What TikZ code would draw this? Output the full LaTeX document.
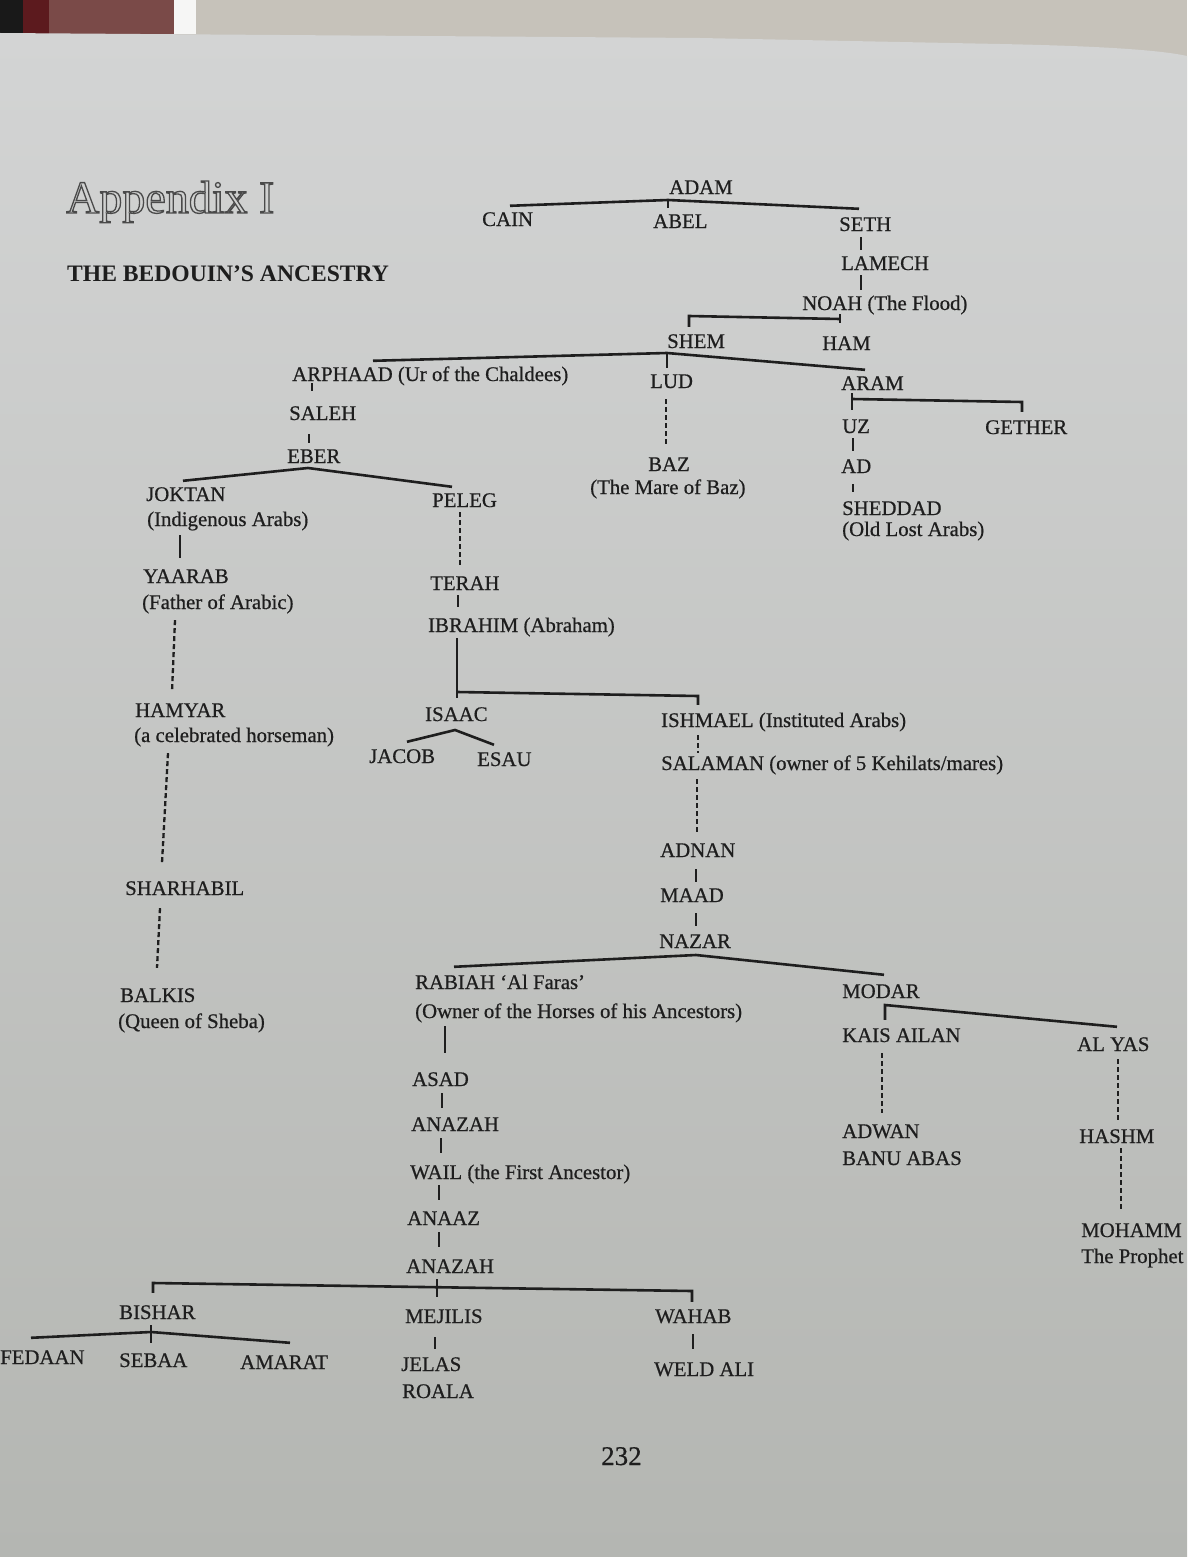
\documentclass[tikz,border=0pt]{standalone}
\usepackage{fontspec}
\setmainfont{Liberation Serif}
\newfontfamily\lblface{Liberation Serif}[FakeBold=0.6]
\usetikzlibrary{calc}
\definecolor{ink}{HTML}{1E1E1E}
\definecolor{pagetop}{HTML}{D3D4D4}
\definecolor{pagebot}{HTML}{B4B6B2}
\definecolor{tablecol}{HTML}{C6C2BA}
\definecolor{titlecol}{HTML}{4A4A4A}
\definecolor{rugdark}{HTML}{5C1A1E}
\definecolor{rugmid}{HTML}{7A4A48}
\newcommand\lblfont{\lblface\fontsize{20.8}{24}\selectfont}
\newcommand\vconn[6][tick]{\draw[#1] ([yshift=-#5pt]#2.south -| #4,0) -- ([yshift=#6pt]#3.north -| #4,0);}
\begin{document}
\begin{tikzpicture}[x=1pt,y=-1pt,
 lbl/.style={anchor=west, inner sep=0pt, text height=14pt, text depth=0pt, font=\lblfont, text=ink},
 tree/.style={draw=ink, line width=2.6pt},
 tick/.style={draw=ink, line width=2.3pt},
 dashline/.style={draw=ink, line width=2.3pt, dash pattern=on 5pt off 3pt}]
\useasboundingbox (0,0) rectangle (1187,1557);
% background
\fill[tablecol] (0,0) rectangle (1187,70);
\fill[black!90] (0,0) rectangle (23,34);
\fill[rugdark] (23,0) rectangle (49,34);
\fill[rugmid] (49,0) rectangle (174,34);
\fill[white!85!tablecol] (174,0) rectangle (196,34);
\shade[top color=pagetop, bottom color=pagebot] (0,33) -- (700,38) -- (1000,44) .. controls (1100,46) and (1160,50) .. (1187,56) -- (1187,1557) -- (0,1557) -- cycle;
% headings
\node[anchor=base west, inner sep=0pt, font=\fontsize{46}{50}\selectfont, text=titlecol] (title) at (66,213) {\special{pdf:literal direct 1 Tr 1.3 w}Appendix I\special{pdf:literal direct 0 Tr}};
\node[anchor=base west, inner sep=0pt, font=\fontsize{23.6}{26}\selectfont\bfseries, text=ink] (subtitle) at (67,281) {THE BEDOUIN’S ANCESTRY};
\node[anchor=base west, inner sep=0pt, font=\lblface\fontsize{27}{30}\selectfont, text=ink] (pageno) at (601,1465) {232};
% names
\node[lbl] (adam) at (669,187) {ADAM};
\node[lbl] (cain) at (482,219) {CAIN};
\node[lbl] (abel) at (653,221) {ABEL};
\node[lbl] (seth) at (839,224) {SETH};
\node[lbl] (lamech) at (841,263) {LAMECH};
\node[lbl] (noah) at (802,303) {NOAH (The Flood)};
\node[lbl] (shem) at (667,341) {SHEM};
\node[lbl] (ham) at (822,343) {HAM};
\node[lbl] (arphaad) at (292,374) {ARPHAAD (Ur of the Chaldees)};
\node[lbl] (lud) at (650,381) {LUD};
\node[lbl] (aram) at (841,383) {ARAM};
\node[lbl] (saleh) at (289,413) {SALEH};
\node[lbl] (uz) at (842,426) {UZ};
\node[lbl] (gether) at (985,427) {GETHER};
\node[lbl] (eber) at (287,456) {EBER};
\node[lbl] (ad) at (841,466) {AD};
\node[lbl] (baz) at (648,464) {BAZ};
\node[lbl] (bazN) at (590,487) {(The Mare of Baz)};
\node[lbl] (sheddad) at (842,508) {SHEDDAD};
\node[lbl] (sheddadN) at (842,529) {(Old Lost Arabs)};
\node[lbl] (joktan) at (146,494) {JOKTAN};
\node[lbl] (joktanN) at (147,519) {(Indigenous Arabs)};
\node[lbl] (peleg) at (432,500) {PELEG};
\node[lbl] (yaarab) at (143,576) {YAARAB};
\node[lbl] (yaarabN) at (142,602) {(Father of Arabic)};
\node[lbl] (terah) at (430,583) {TERAH};
\node[lbl] (ibrahim) at (428,625) {IBRAHIM (Abraham)};
\node[lbl] (hamyar) at (135,710) {HAMYAR};
\node[lbl] (hamyarN) at (134,735) {(a celebrated horseman)};
\node[lbl] (isaac) at (425,714) {ISAAC};
\node[lbl] (ishmael) at (661,720) {ISHMAEL (Instituted Arabs)};
\node[lbl] (jacob) at (369,756) {JACOB};
\node[lbl] (esau) at (477,759) {ESAU};
\node[lbl] (salaman) at (661,763) {SALAMAN (owner of 5 Kehilats/mares)};
\node[lbl] (adnan) at (660,850) {ADNAN};
\node[lbl] (sharhabil) at (125,888) {SHARHABIL};
\node[lbl] (maad) at (660,895) {MAAD};
\node[lbl] (nazar) at (659,941) {NAZAR};
\node[lbl] (rabiah) at (415,982) {RABIAH ‘Al Faras’};
\node[lbl] (rabiahN) at (415,1011) {(Owner of the Horses of his Ancestors)};
\node[lbl] (modar) at (842,991) {MODAR};
\node[lbl] (balkis) at (120,995) {BALKIS};
\node[lbl] (balkisN) at (118,1021) {(Queen of Sheba)};
\node[lbl] (kais) at (842,1035) {KAIS AILAN};
\node[lbl] (alyas) at (1077,1044) {AL YAS};
\node[lbl] (asad) at (412,1079) {ASAD};
\node[lbl] (anazahA) at (411,1124) {ANAZAH};
\node[lbl] (adwan) at (842,1131) {ADWAN};
\node[lbl] (banuabas) at (842,1158) {BANU ABAS};
\node[lbl] (hashm) at (1079,1136) {HASHM};
\node[lbl] (wail) at (410,1172) {WAIL (the First Ancestor)};
\node[lbl] (anaaz) at (407,1218) {ANAAZ};
\node[lbl] (mohamm) at (1081,1230) {MOHAMM};
\node[lbl] (prophet) at (1081,1256) {The Prophet};
\node[lbl] (anazahB) at (406,1266) {ANAZAH};
\node[lbl] (bishar) at (119,1312) {BISHAR};
\node[lbl] (mejilis) at (405,1316) {MEJILIS};
\node[lbl] (wahab) at (655,1316) {WAHAB};
\node[lbl] (fedaan) at (0,1357) {FEDAAN};
\node[lbl] (sebaa) at (119,1360) {SEBAA};
\node[lbl] (amarat) at (240,1362) {AMARAT};
\node[lbl] (jelas) at (401,1364) {JELAS};
\node[lbl] (roala) at (402,1391) {ROALA};
\node[lbl] (weldali) at (654,1369) {WELD ALI};
% connectors
\coordinate (adamJ) at (668,200);
\draw[tree] ([yshift=6pt]cain.north -| 510,0) -- (adamJ) -- ([yshift=8pt]seth.north -| 859,0);
\draw[tick] (adamJ) -- ([yshift=6pt]abel.north -| adamJ);
\vconn{seth}{lamech}{861}{6}{6}
\vconn{lamech}{noah}{861}{5}{6}
\coordinate (noahJ) at (840,319);
\coordinate (noahL) at (689,316);
\draw[tree] ([yshift=7pt]shem.north -| noahL) -- (noahL) -- (noahJ);
\vconn{noah}{ham}{840}{4}{13}
\coordinate (shemJ) at (667,353);
\draw[tree] ([yshift=6pt]arphaad.north -| 373,0) -- (shemJ) -- ([yshift=6pt]aram.north -| 865,0);
\draw[tick] (shemJ) -- ([yshift=6pt]lud.north -| shemJ);
\vconn{arphaad}{saleh}{312}{2}{15}
\vconn{saleh}{eber}{309}{14}{6}
\coordinate (eberJ) at (308,468);
\draw[tree] ([yshift=6pt]joktan.north -| 183,0) -- (eberJ) -- ([yshift=6pt]peleg.north -| 452,0);
\vconn[dashline]{lud}{baz}{666}{11}{10}
\coordinate (aramJ) at (852,399);
\draw[tick] ([yshift=-3pt]aram.south -| aramJ) -- ([yshift=9pt]uz.north -| aramJ);
\draw[tree] (aramJ) -- (1022,402) -- ([yshift=8pt]gether.north -| 1022,0);
\vconn{uz}{ad}{853}{5}{8}
\vconn{ad}{sheddad}{853}{11}{9}
\vconn[tree]{joktanN}{yaarab}{180}{9}{11}
\draw[dashline] ([yshift=-11pt]yaarabN.south -| 175,0) -- ([yshift=11pt]hamyar.north -| 172,0);
\draw[dashline] ([yshift=-11pt]hamyarN.south -| 168,0) -- ([yshift=18pt]sharhabil.north -| 162,0);
\draw[dashline] ([yshift=-13pt]sharhabil.south -| 160,0) -- ([yshift=20pt]balkis.north -| 157,0);
\vconn[dashline]{peleg}{terah}{460}{5}{11}
\vconn{terah}{ibrahim}{458}{5}{11}
\coordinate (ibJ) at (457,692);
\draw[tree] ([yshift=-6pt]ibrahim.south -| ibJ) -- ([yshift=9pt]isaac.north -| ibJ);
\draw[tree] (ibJ) -- (698,696) -- ([yshift=8pt]ishmael.north -| 698,0);
\coordinate (isaacJ) at (455,730);
\draw[tree] ([yshift=7pt]jacob.north -| 407,0) -- (isaacJ) -- ([yshift=7pt]esau.north -| 494,0);
\vconn[dashline]{ishmael}{salaman}{698}{8}{3}
\vconn[dashline]{salaman}{adnan}{697}{9}{10}
\vconn{adnan}{maad}{696}{12}{6}
\vconn{maad}{nazar}{696}{11}{8}
\coordinate (nazarJ) at (696,955);
\draw[tree] ([yshift=8pt]rabiah.north -| 454,0) -- (nazarJ) -- ([yshift=9pt]modar.north -| 884,0);
\vconn[tree]{rabiahN}{asad}{445}{8}{19}
\vconn{asad}{anazahA}{442}{7}{9}
\vconn{anazahA}{wail}{441}{7}{12}
\vconn{wail}{anaaz}{439}{6}{11}
\vconn{anaaz}{anazahB}{439}{7}{12}
\coordinate (modarJ) at (885,1005);
\draw[tree] ([yshift=8pt]kais.north -| modarJ) -- (modarJ) -- ([yshift=10pt]alyas.north -| 1117,0);
\vconn[dashline]{kais}{adwan}{882}{11}{11}
\vconn[dashline]{alyas}{hashm}{1118}{8}{9}
\vconn[dashline]{hashm}{mohamm}{1121}{5}{12}
\coordinate (anzL) at (153,1283);
\coordinate (anzR) at (692,1291);
\draw[tree] ([yshift=12pt]bishar.north -| anzL) -- (anzL) -- (anzR) -- ([yshift=7pt]wahab.north -| anzR);
\vconn{anazahB}{mejilis}{437}{6}{12}
\coordinate (bishJ) at (151,1332);
\draw[tree] ([yshift=12pt]fedaan.north -| 31,0) -- (bishJ) -- ([yshift=12pt]amarat.north -| 290,0);
\vconn{bishar}{sebaa}{151}{6}{10}
\vconn{mejilis}{jelas}{435}{14}{8}
\vconn{wahab}{weldali}{693}{11}{13}
\end{tikzpicture}
\end{document}
